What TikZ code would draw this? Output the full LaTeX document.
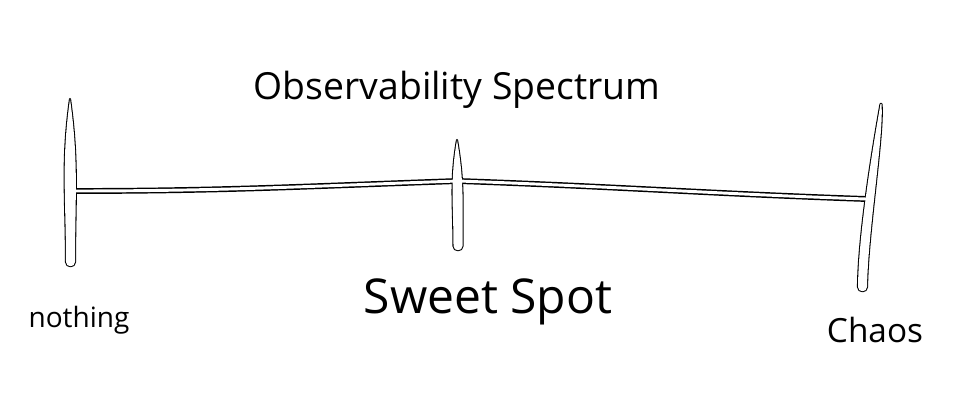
\documentclass[tikz,border=0pt]{standalone}
\usepackage{fontspec}
\setmainfont{Open Sans}
\begin{document}
\begin{tikzpicture}[x=0.75pt,y=-0.75pt]

      \tikzset{ink/.style={draw=black, line width=1.6pt, line cap=round, line join=round},
               inner/.style={draw=white, line width=2.2pt, line cap=round},
               label/.style={inner sep=0pt, text=black}}
      \useasboundingbox (0,0) rectangle (960,417);
%% Junctions on the ticks
      	\coordinate (jl) at (72,191);
      	\coordinate (jm) at (458,181);
      	\coordinate (jr) at (866,199);
%% Outline pass
      	\path[ink, fill=white, save path=\tickl] (70,99) to[out=-82,in=90] (75,262) to[out=-90,in=-90,looseness=1.6] (66,262) to[out=90,in=-98] (70,99) -- cycle;
      	\path[ink, fill=white, save path=\tickm] (457,140) to[out=-80,in=90] (462.5,246) to[out=-90,in=-90,looseness=1.6] (453.5,246) to[out=90,in=-100] (457,140) -- cycle;
      	\path[ink, fill=white, save path=\tickr] (881.5,104) .. controls (884,135) and (868,230) .. (867,287) to[out=-90,in=-90,looseness=1.6] (858,287) .. controls (858.5,230) and (875,135) .. (880.5,104) -- cycle;
		\draw[ink, line width=4.4pt] (jl) to[out=0,in=182] (jm) to[out=-2,in=178] (jr);
%% White pass
		\draw[inner] (jl) to[out=0,in=182] (jm) to[out=-2,in=178] (jr);
		\fill[white, use path=\tickl];
		\fill[white, use path=\tickm];
		\fill[white, use path=\tickr];
%Labels
		\node[label, font=\fontsize{28}{31}\selectfont] (title) at (457,90) {Observability Spectrum};
		\node[label, font=\fontsize{36}{40}\selectfont] (sweet) at (488,302) {Sweet Spot};
		\node[label, font=\fontsize{21}{24}\selectfont] (nothing) at (79,320) {nothing};
		\node[label, font=\fontsize{25}{28}\selectfont] (chaos) at (875,330) {Chaos};

	\end{tikzpicture}
\end{document}
